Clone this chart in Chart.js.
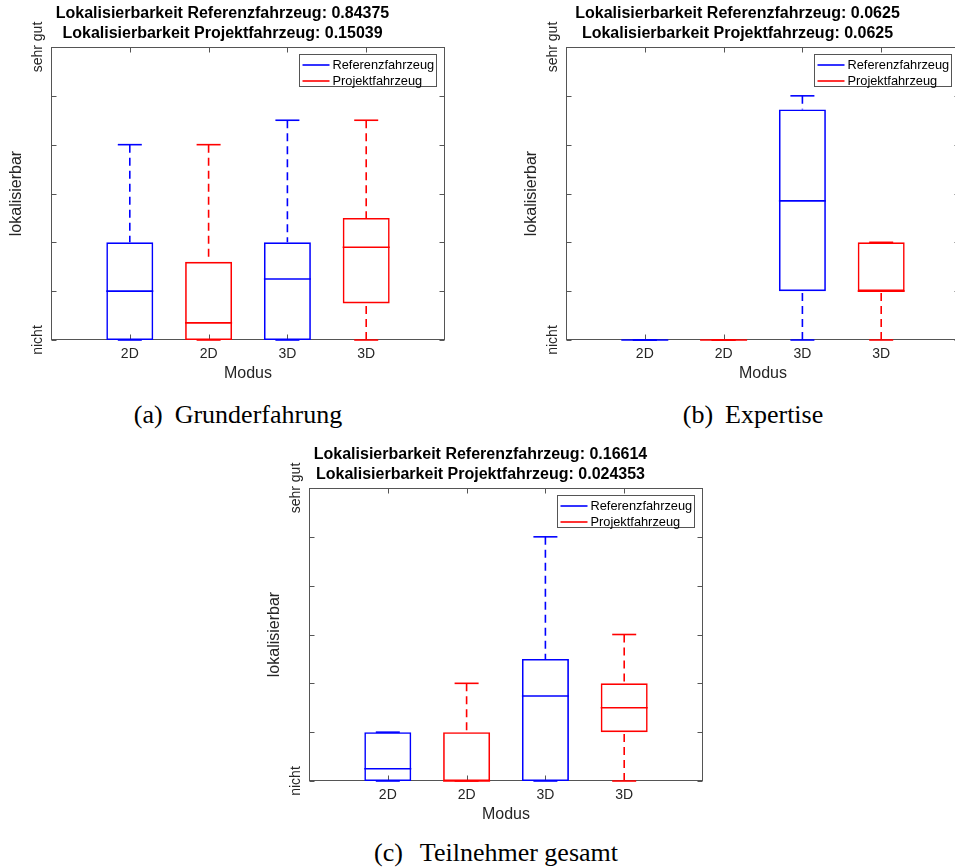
<!DOCTYPE html>
<html>
<head>
<meta charset="utf-8">
<script src="https://cdn.jsdelivr.net/npm/chart.js@4.4.0/dist/chart.umd.min.js"></script>
<style>
  html, body { margin: 0; padding: 0; background: #fff; overflow: hidden; width: 955px; height: 868px; }
  canvas { position: absolute; }
  .cap { position: absolute; font-family: "Liberation Serif", "Times New Roman", serif; font-size: 26px; line-height: 30px; color: #000; white-space: nowrap; transform: translateX(-50%); }
  .cap span { display: inline-block; }
</style>
</head>
<body>
<canvas id="chartA" width="460" height="392" style="left:0px;top:0px"></canvas>
<canvas id="chartB" width="460" height="392" style="left:515px;top:0px"></canvas>
<canvas id="chartC" width="460" height="392" style="left:258px;top:441px"></canvas>
<div class="cap" style="left:238px;top:400px"><span style="margin-right:12px">(a)</span>Grunderfahrung</div>
<div class="cap" style="left:753px;top:400px"><span style="margin-right:12px">(b)</span>Expertise</div>
<div class="cap" style="left:496px;top:838px"><span style="margin-right:17px">(c)</span>Teilnehmer gesamt</div>
<script>
// ---------------- data ----------------
const categories = ['2D', '2D', '3D', '3D'];
const seriesNames = ['Referenzfahrzeug', 'Projektfahrzeug'];
const boxSeries = [0, 1, 0, 1];           // series index of each box
const yTickLabels = { 0: 'nicht', 6: 'sehr gut' };
const yMin = 0;
const yMax = 6;
const xLabel = 'Modus';
const yLabel = 'lokalisierbar';

// (a) Grunderfahrung
const titlesA = ['Lokalisierbarkeit Referenzfahrzeug: 0.84375', 'Lokalisierbarkeit Projektfahrzeug: 0.15039'];
const minA = [0, 0, 0, 0];
const q1A  = [0, 0, 0, 0.75];
const medA = [1, 0.35, 1.25, 1.9];
const q3A  = [2, 1.6, 2, 2.5];
const maxA = [4, 4, 4.5, 4.5];

// (b) Expertise
const titlesB = ['Lokalisierbarkeit Referenzfahrzeug: 0.0625', 'Lokalisierbarkeit Projektfahrzeug: 0.0625'];
const minB = [0, 0, 0, 0];
const q1B  = [0, 0, 1, 1];
const medB = [0, 0, 2.85, 1];
const q3B  = [0, 0, 4.72, 2];
const maxB = [0, 0, 5, 2];

// (c) Teilnehmer gesamt
const titlesC = ['Lokalisierbarkeit Referenzfahrzeug: 0.16614', 'Lokalisierbarkeit Projektfahrzeug: 0.024353'];
const minC = [0, 0, 0, 0];
const q1C  = [0, 0, 0, 1];
const medC = [0.25, 0, 1.74, 1.5];
const q3C  = [1, 1, 2.5, 2];
const maxC = [1, 2, 5, 3];

// ---------------- style ----------------
const seriesColors = ['#0000ff', '#ff0000'];
const FONT = '"Liberation Sans", Arial, Helvetica, sans-serif';
const TXT = '#262626';
const AXIS = '#555555';
const BOX_W = 47;
const CAP_W = 24;
const LINE_W = 1.6;

function line(ctx, x1, y1, x2, y2) {
  ctx.beginPath(); ctx.moveTo(x1, y1); ctx.lineTo(x2, y2); ctx.stroke();
}

const framePlugin = {
  id: 'frame',
  beforeDatasetsDraw(chart) {
    const { ctx, chartArea: a, scales: { x, y } } = chart;
    ctx.save();
    ctx.strokeStyle = AXIS;
    ctx.lineWidth = 1;
    const L = Math.round(a.left) + 0.5, R = Math.round(a.right) - 0.5;
    const T = Math.round(a.top) + 0.5, B = Math.round(a.bottom) - 0.5;
    ctx.strokeRect(L, T, R - L, B - T);
    y.ticks.forEach(t => {
      const py = Math.round(y.getPixelForValue(t.value)) + 0.5;
      line(ctx, L, py, L + 5, py);
      line(ctx, R, py, R - 5, py);
    });
    categories.forEach((c, i) => {
      const px = Math.round(x.getPixelForValue(i + 1)) + 0.5;
      line(ctx, px, B, px, B - 5);
      line(ctx, px, T, px, T + 5);
    });
    // rotated y tick labels
    ctx.fillStyle = TXT;
    ctx.font = '14px ' + FONT;
    ctx.textAlign = 'center';
    ctx.textBaseline = 'middle';
    y.ticks.forEach(t => {
      const lab = yTickLabels[t.value];
      if (!lab) return;
      const py = y.getPixelForValue(t.value);
      ctx.save();
      ctx.translate(a.left - 12.5, py);
      ctx.rotate(-Math.PI / 2);
      ctx.fillText(lab, 0, 0);
      ctx.restore();
    });
    ctx.restore();
  }
};

function makeBoxPlugin(mins, q1s, meds, q3s, maxs) {
  return {
    id: 'boxStats',
    afterDatasetsDraw(chart) {
      const { ctx, scales: { x, y } } = chart;
      ctx.save();
      ctx.lineWidth = LINE_W;
      categories.forEach((c, b) => {
        const cx = x.getPixelForValue(b + 1);
        ctx.strokeStyle = seriesColors[boxSeries[b]];
        const pMin = y.getPixelForValue(mins[b]);
        const pQ1 = y.getPixelForValue(q1s[b]);
        const pMed = y.getPixelForValue(meds[b]);
        const pQ3 = y.getPixelForValue(q3s[b]);
        const pMax = y.getPixelForValue(maxs[b]);
        ctx.setLineDash([8, 5]);
        if (maxs[b] > q3s[b]) line(ctx, cx, pMax, cx, pQ3);
        if (q1s[b] > mins[b]) line(ctx, cx, pMin, cx, pQ1);
        ctx.setLineDash([]);
        line(ctx, cx - CAP_W / 2, pMax, cx + CAP_W / 2, pMax);
        line(ctx, cx - CAP_W / 2, pMin, cx + CAP_W / 2, pMin);
        line(ctx, cx - BOX_W / 2, pMed, cx + BOX_W / 2, pMed);
      });
      ctx.restore();
    }
  };
}

const legendPlugin = {
  id: 'insideLegend',
  afterDraw(chart) {
    const { ctx, chartArea: a } = chart;
    const bw = 137, bh = 32;
    const bx = Math.round(a.right - 9 - bw) + 0.5;
    const by = Math.round(a.top + 7) + 0.5;
    ctx.save();
    ctx.fillStyle = '#fff';
    ctx.fillRect(bx, by, bw, bh);
    ctx.strokeStyle = AXIS;
    ctx.lineWidth = 1;
    ctx.strokeRect(bx, by, bw, bh);
    ctx.font = '12.8px ' + FONT;
    ctx.textAlign = 'left';
    ctx.textBaseline = 'middle';
    chart.data.datasets.forEach((ds, i) => {
      const ly = by + 10.5 + i * 16;
      ctx.strokeStyle = ds.borderColor;
      ctx.lineWidth = LINE_W;
      line(ctx, bx + 3, ly, bx + 30, ly);
      ctx.fillStyle = '#000';
      ctx.fillText(ds.label, bx + 33, ly + 0.5);
    });
    ctx.restore();
  }
};

function buildChart(canvasId, titles, mins, q1s, meds, q3s, maxs) {
  const labels = ['', ...categories, ''];
  const datasets = seriesNames.map((name, s) => ({
    label: name,
    data: labels.map((_, i) => {
      const b = i - 1;
      return (b >= 0 && b < categories.length && boxSeries[b] === s) ? [q1s[b], q3s[b]] : null;
    }),
    backgroundColor: 'rgba(0,0,0,0)',
    borderColor: seriesColors[s],
    borderWidth: LINE_W,
    borderSkipped: false,
    inflateAmount: 0,
    barThickness: BOX_W,
    grouped: false
  }));
  return new Chart(document.getElementById(canvasId), {
    type: 'bar',
    data: { labels, datasets },
    options: {
      responsive: false,
      animation: false,
      events: [],
      layout: { padding: { left: 0, right: 15, top: 0, bottom: 0 } },
      plugins: {
        legend: { display: false },
        tooltip: { enabled: false },
        title: {
          display: true, text: titles, color: '#000',
          font: { family: FONT, size: 16, weight: 'bold', lineHeight: 1.2 },
          padding: { top: 4.4, bottom: 4.2 }
        }
      },
      scales: {
        x: {
          type: 'category', offset: false,
          grid: { display: false, drawTicks: false },
          border: { display: false },
          ticks: { autoSkip: false, maxRotation: 0, minRotation: 0, padding: 5.6, color: TXT, font: { family: FONT, size: 14 } },
          title: { display: true, text: xLabel, color: TXT, font: { family: FONT, size: 16, lineHeight: 1.2 }, padding: { top: 0, bottom: 8.4 } },
          afterFit: s => { s.height = 52; }
        },
        y: {
          min: yMin, max: yMax,
          grid: { display: false, drawTicks: false },
          border: { display: false },
          ticks: { display: false, stepSize: 1 },
          title: { display: true, text: yLabel, color: TXT, font: { family: FONT, size: 16, lineHeight: 1.2 }, padding: { top: 6.5, bottom: 0 } },
          afterFit: s => { s.width = 51; }
        }
      }
    },
    plugins: [framePlugin, makeBoxPlugin(mins, q1s, meds, q3s, maxs), legendPlugin]
  });
}

buildChart('chartA', titlesA, minA, q1A, medA, q3A, maxA);
buildChart('chartB', titlesB, minB, q1B, medB, q3B, maxB);
buildChart('chartC', titlesC, minC, q1C, medC, q3C, maxC);
</script>
</body>
</html>
